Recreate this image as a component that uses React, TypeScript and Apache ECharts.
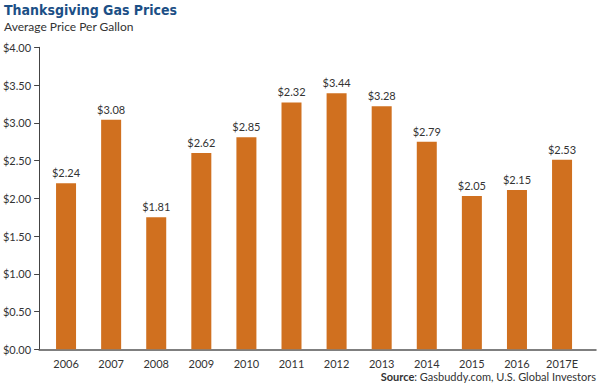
import React, { useEffect, useRef } from "react";
import * as echarts from "echarts";

const categories = ["2006", "2007", "2008", "2009", "2010", "2011", "2012", "2013", "2014", "2015", "2016", "2017E"];
const barValues = [2.2, 3.04, 1.75, 2.6, 2.81, 3.27, 3.39, 3.22, 2.75, 2.03, 2.11, 2.51];
const barLabels = ["$2.24", "$3.08", "$1.81", "$2.62", "$2.85", "$2.32", "$3.44", "$3.28", "$2.79", "$2.05", "$2.15", "$2.53"];
const yMin = 0;
const yMax = 4;
const yInterval = 0.5;

const FONT = "Lato, 'Open Sans', sans-serif";

export default function App() {
  const ref = useRef<HTMLDivElement>(null);
  useEffect(() => {
    document.body.style.margin = "0";
    if (!ref.current) return;
    const chart = echarts.init(ref.current, null, { renderer: "svg" });
    chart.setOption({
      animation: false,
      backgroundColor: "#ffffff",
      textStyle: { fontFamily: FONT },
      graphic: [
        {
          type: "text",
          left: 4,
          top: 3,
          style: {
            text: "Thanksgiving Gas Prices",
            fontFamily: "'Liberation Sans Narrow', 'DejaVu Sans Condensed', Roboto, sans-serif",
            fontWeight: "bold",
            fontSize: 14,
            fill: "#1c4f86",
          },
        },
        {
          type: "text",
          left: 4,
          top: 20,
          style: { text: "Average Price Per Gallon", fontFamily: FONT, fontSize: 12, fill: "#333333" },
        },
        {
          type: "text",
          right: 4,
          top: 371,
          style: {
            text: "{b|Source}: Gasbuddy.com, U.S. Global Investors",
            fontFamily: FONT,
            fontSize: 11,
            fill: "#333333",
            rich: { b: { fontWeight: "bold", fontFamily: FONT, fontSize: 11, fill: "#333333" } },
          },
        },
      ],
      grid: [
        { left: 39, right: 4, top: 47.3, bottom: 34.7 },
        { left: 43.5, right: 15.4, top: 47.3, bottom: 34.7 },
      ],
      xAxis: [
        {
          gridIndex: 0,
          type: "category",
          data: categories,
          axisLine: { show: true, lineStyle: { color: "#555555", width: 1.5 } },
          axisTick: { show: false },
          axisLabel: { show: false },
          splitLine: { show: false },
        },
        {
          gridIndex: 1,
          type: "category",
          data: categories,
          axisLine: { show: false },
          axisTick: { show: false },
          axisLabel: { color: "#333333", fontSize: 11, margin: 9, fontFamily: FONT },
          splitLine: { show: false },
        },
      ],
      yAxis: [
        {
          gridIndex: 0,
          type: "value",
          min: yMin,
          max: yMax,
          interval: yInterval,
          axisLine: { show: true, lineStyle: { color: "#444444", width: 1 } },
          axisTick: { show: true, length: 5, lineStyle: { color: "#444444" } },
          axisLabel: {
            color: "#333333",
            fontSize: 11,
            margin: 8,
            fontFamily: FONT,
            formatter: (v: number) => "$" + v.toFixed(2),
          },
          splitLine: { show: false },
        },
        {
          gridIndex: 1,
          type: "value",
          min: yMin,
          max: yMax,
          interval: yInterval,
          show: false,
        },
      ],
      series: [
        {
          type: "bar",
          xAxisIndex: 1,
          yAxisIndex: 1,
          data: barValues,
          barWidth: 20,
          itemStyle: { color: "#d0701f" },
          label: {
            show: true,
            position: "top",
            distance: 5,
            color: "#333333",
            fontSize: 11,
            fontFamily: FONT,
            formatter: (p: any) => barLabels[p.dataIndex],
          },
        },
      ],
    });
    return () => chart.dispose();
  }, []);
  return <div ref={ref} style={{ width: 600, height: 384 }} />;
}
